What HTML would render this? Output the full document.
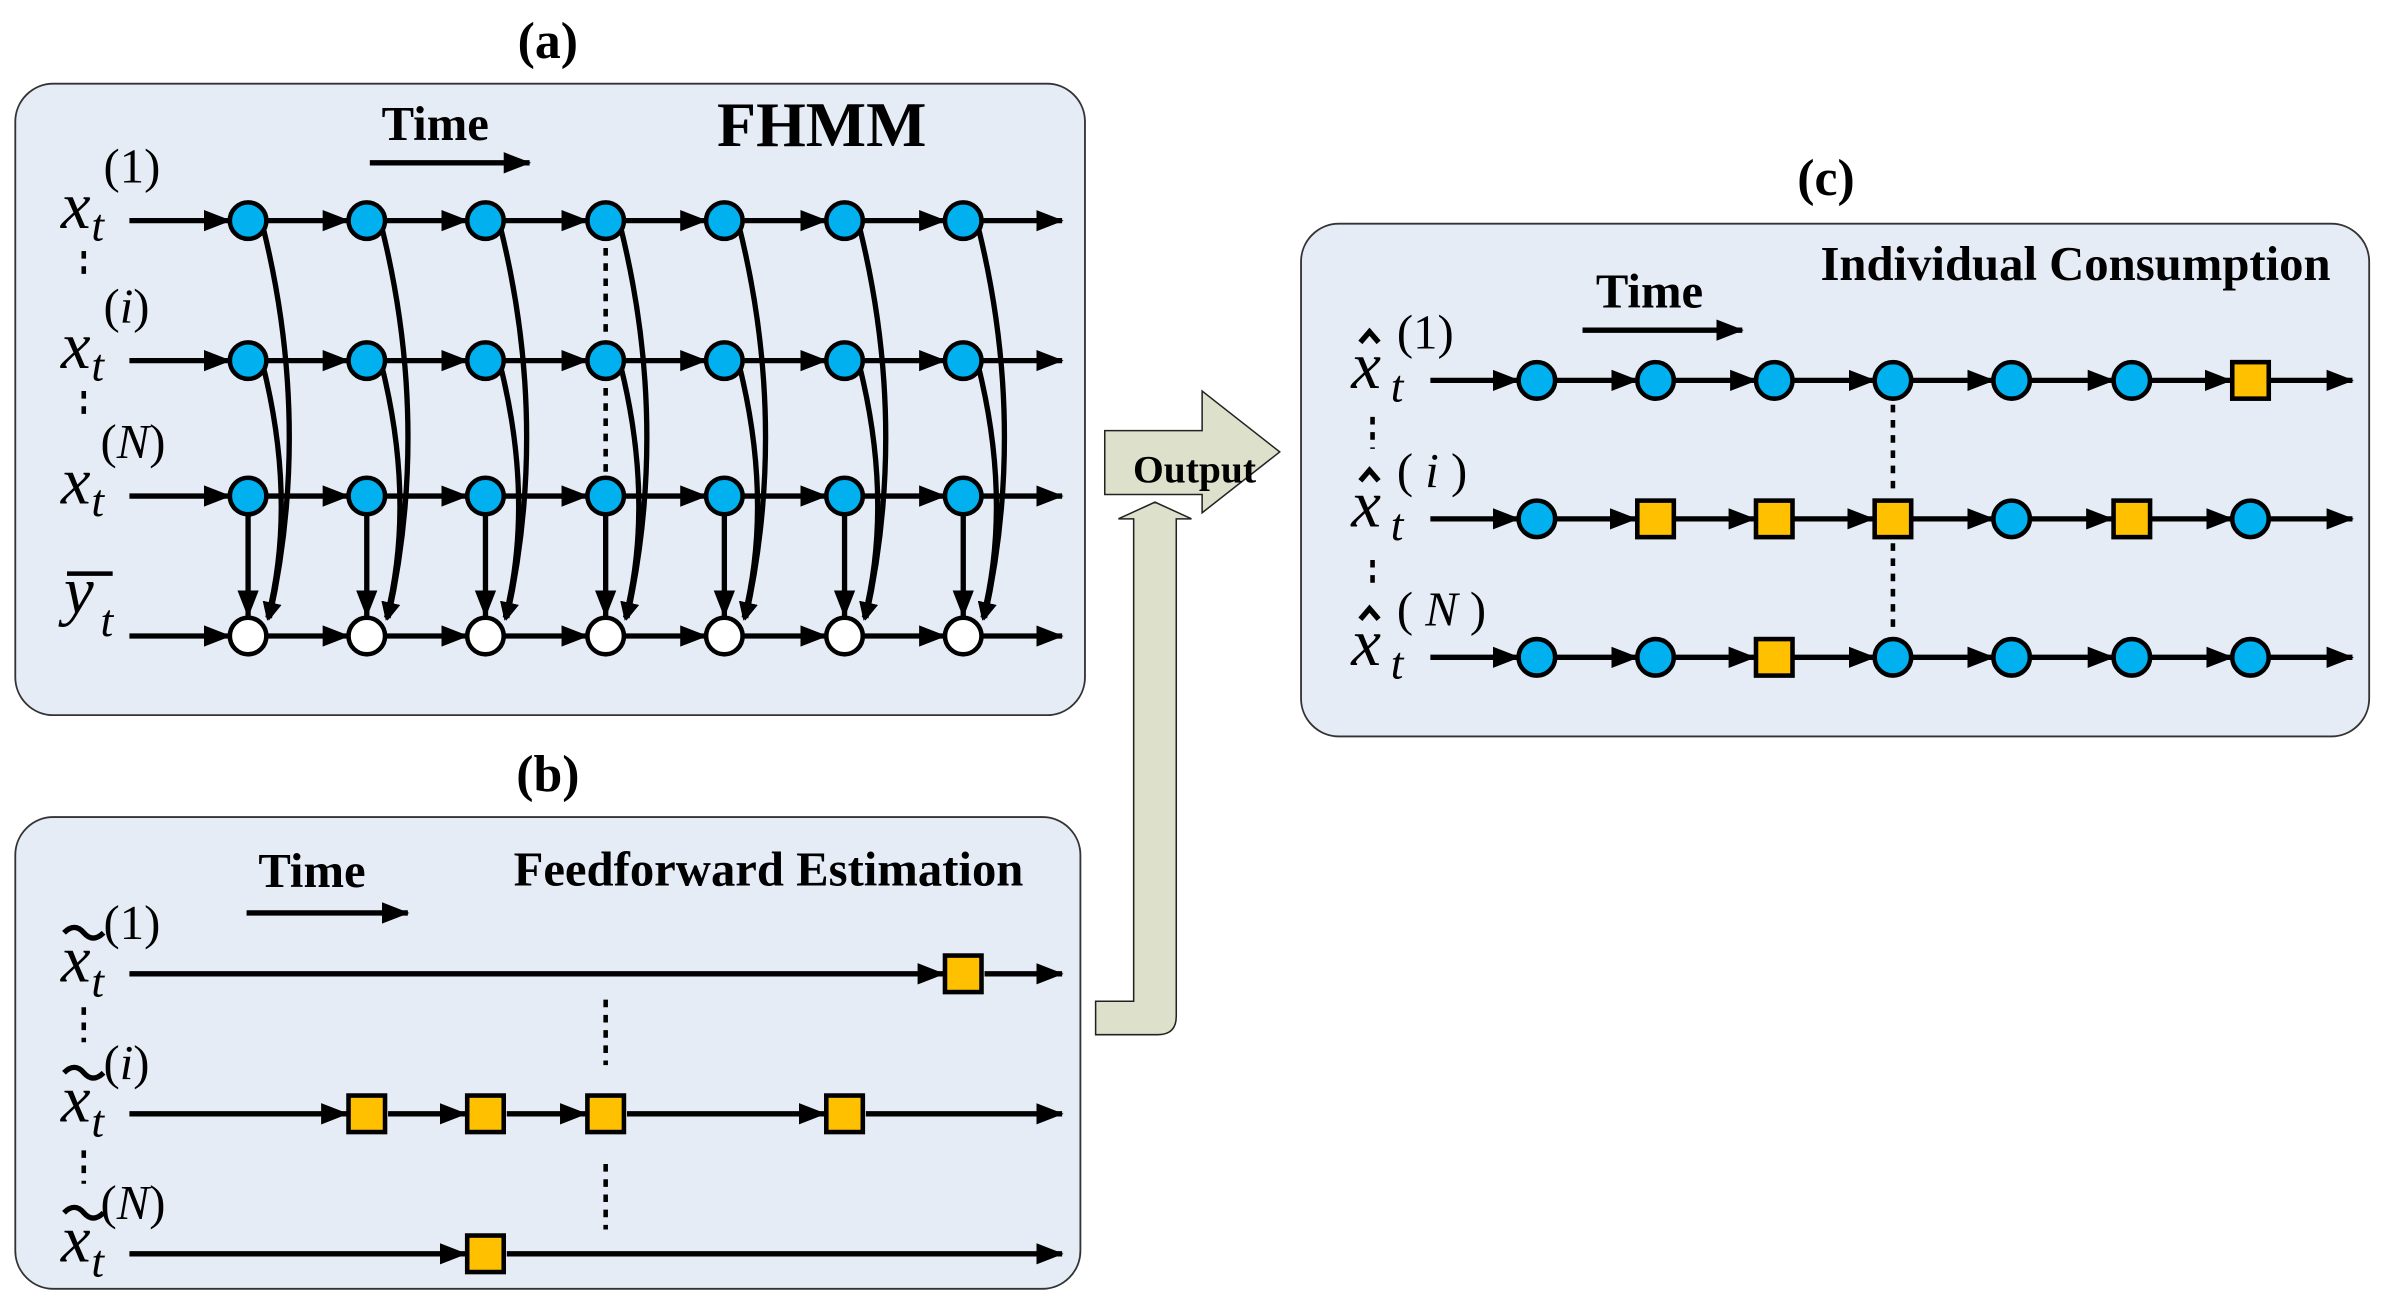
<!DOCTYPE html>
<html><head><meta charset="utf-8"><style>html,body{margin:0;padding:0;background:#fff}svg{display:block}</style></head>
<body>
<svg width="2386" height="1304" viewBox="0 0 1568 857" xmlns="http://www.w3.org/2000/svg" font-family="'Liberation Serif', serif">
<defs>
<marker id="ah" markerWidth="12" markerHeight="12" refX="10" refY="6" orient="auto" markerUnits="userSpaceOnUse" viewBox="0 0 12 12">
<path d="M0,0 L12,6 L0,12 z" fill="#000"/></marker>
<marker id="ah2" markerWidth="18" markerHeight="18" refX="17" refY="9" orient="auto" markerUnits="userSpaceOnUse" viewBox="0 0 18 18">
<path d="M0,2 L18,9 L0,16 z" fill="#000"/></marker>
</defs>
<style>
.bx{fill:#e6ecf6;stroke:#333;stroke-width:1.2}
.ln{stroke:#000;stroke-width:3.5;fill:none}
.c{fill:#00b0ef;stroke:#000;stroke-width:3}
.w{fill:#fff;stroke:#000;stroke-width:3}
.s{fill:#ffc000;stroke:#000;stroke-width:3}
.dt{stroke:#000;stroke-width:3;stroke-dasharray:5,5}
.b{font-weight:bold}
.it{font-style:italic}
</style>
<!-- Panel a -->
<text x="360" y="38" font-size="34" class="b" text-anchor="middle">(a)</text>
<rect class="bx" x="10" y="55" width="703" height="415" rx="25"/>
<text x="286" y="92" font-size="32" class="b" text-anchor="middle">Time</text>
<line class="ln" x1="243" y1="107" x2="348" y2="107" marker-end="url(#ah2)"/>
<text x="540" y="96" font-size="42" class="b" text-anchor="middle">FHMM</text>
<g class="ln" marker-end="url(#ah2)">
<path d="M85,145 H151"/><path d="M175,145 H229"/><path d="M253,145 H307"/><path d="M331,145 H386"/><path d="M410,145 H464"/><path d="M488,145 H543"/><path d="M567,145 H621"/><path d="M645,145 H698"/>
<path d="M85,237 H151"/><path d="M175,237 H229"/><path d="M253,237 H307"/><path d="M331,237 H386"/><path d="M410,237 H464"/><path d="M488,237 H543"/><path d="M567,237 H621"/><path d="M645,237 H698"/>
<path d="M85,326 H151"/><path d="M175,326 H229"/><path d="M253,326 H307"/><path d="M331,326 H386"/><path d="M410,326 H464"/><path d="M488,326 H543"/><path d="M567,326 H621"/><path d="M645,326 H698"/>
<path d="M85,418 H151"/><path d="M175,418 H229"/><path d="M253,418 H307"/><path d="M331,418 H386"/><path d="M410,418 H464"/><path d="M488,418 H543"/><path d="M567,418 H621"/><path d="M645,418 H698"/>
</g>
<line class="dt" x1="398" y1="163" x2="398" y2="222"/>
<line class="dt" x1="398" y1="255" x2="398" y2="312"/>
<line class="dt" x1="55" y1="165" x2="55" y2="185"/>
<line class="dt" x1="55" y1="257" x2="55" y2="277"/>
<g class="ln">
<path d="M163,338 V405" marker-end="url(#ah2)"/><path d="M241,338 V405" marker-end="url(#ah2)"/><path d="M319,338 V405" marker-end="url(#ah2)"/><path d="M398,338 V405" marker-end="url(#ah2)"/><path d="M476,338 V405" marker-end="url(#ah2)"/><path d="M555,338 V405" marker-end="url(#ah2)"/><path d="M633,338 V405" marker-end="url(#ah2)"/>
<path d="M173,150 Q205,280 177,406" marker-end="url(#ah)"/><path d="M173,241 Q195,330 176,406" marker-end="url(#ah)"/>
<path d="M251,150 Q283,280 255,406" marker-end="url(#ah)"/><path d="M251,241 Q273,330 254,406" marker-end="url(#ah)"/>
<path d="M329,150 Q361,280 333,406" marker-end="url(#ah)"/><path d="M329,241 Q351,330 332,406" marker-end="url(#ah)"/>
<path d="M408,150 Q440,280 412,406" marker-end="url(#ah)"/><path d="M408,241 Q430,330 411,406" marker-end="url(#ah)"/>
<path d="M486,150 Q518,280 490,406" marker-end="url(#ah)"/><path d="M486,241 Q508,330 489,406" marker-end="url(#ah)"/>
<path d="M565,150 Q597,280 569,406" marker-end="url(#ah)"/><path d="M565,241 Q587,330 568,406" marker-end="url(#ah)"/>
<path d="M643,150 Q675,280 647,406" marker-end="url(#ah)"/><path d="M643,241 Q665,330 646,406" marker-end="url(#ah)"/>
</g>
<g>
<circle class="c" cx="163" cy="145" r="12"/><circle class="c" cx="241" cy="145" r="12"/><circle class="c" cx="319" cy="145" r="12"/><circle class="c" cx="398" cy="145" r="12"/><circle class="c" cx="476" cy="145" r="12"/><circle class="c" cx="555" cy="145" r="12"/><circle class="c" cx="633" cy="145" r="12"/>
<circle class="c" cx="163" cy="237" r="12"/><circle class="c" cx="241" cy="237" r="12"/><circle class="c" cx="319" cy="237" r="12"/><circle class="c" cx="398" cy="237" r="12"/><circle class="c" cx="476" cy="237" r="12"/><circle class="c" cx="555" cy="237" r="12"/><circle class="c" cx="633" cy="237" r="12"/>
<circle class="c" cx="163" cy="326" r="12"/><circle class="c" cx="241" cy="326" r="12"/><circle class="c" cx="319" cy="326" r="12"/><circle class="c" cx="398" cy="326" r="12"/><circle class="c" cx="476" cy="326" r="12"/><circle class="c" cx="555" cy="326" r="12"/><circle class="c" cx="633" cy="326" r="12"/>
<circle class="w" cx="163" cy="418" r="12"/><circle class="w" cx="241" cy="418" r="12"/><circle class="w" cx="319" cy="418" r="12"/><circle class="w" cx="398" cy="418" r="12"/><circle class="w" cx="476" cy="418" r="12"/><circle class="w" cx="555" cy="418" r="12"/><circle class="w" cx="633" cy="418" r="12"/>
</g>
<g font-size="44" class="it">
<text x="40" y="150">x</text><text x="60" y="158" font-size="30">t</text><text x="68" y="120" font-size="32" font-style="normal">(1)</text>
<text x="40" y="242">x</text><text x="60" y="250" font-size="30">t</text><text x="68" y="212" font-size="32" font-style="normal">(<tspan font-style="italic">i</tspan>)</text>
<text x="40" y="331">x</text><text x="60" y="339" font-size="30">t</text><text x="66" y="301" font-size="32" font-style="normal">(<tspan font-style="italic">N</tspan>)</text>
<text x="42" y="403">y</text><text x="66" y="418" font-size="30">t</text>
</g>
<line x1="44" y1="377" x2="74" y2="377" stroke="#000" stroke-width="3"/>

<!-- Panel b -->
<text x="360" y="520" font-size="34" class="b" text-anchor="middle">(b)</text>
<rect class="bx" x="10" y="537" width="700" height="310" rx="25"/>
<text x="205" y="583" font-size="32" class="b" text-anchor="middle">Time</text>
<line class="ln" x1="162" y1="600" x2="268" y2="600" marker-end="url(#ah2)"/>
<text x="505" y="582" font-size="32" class="b" text-anchor="middle">Feedforward Estimation</text>
<g class="ln" marker-end="url(#ah2)">
<path d="M85,640 H620"/><path d="M85,732 H228"/><path d="M255,732 H306"/><path d="M333,732 H385"/><path d="M412,732 H542"/><path d="M85,824 H306"/>
<path d="M647,640 H698"/><path d="M569,732 H698"/><path d="M333,824 H698"/>
</g>
<line class="dt" x1="398" y1="657" x2="398" y2="700"/>
<line class="dt" x1="398" y1="765" x2="398" y2="808"/>
<line class="dt" x1="55" y1="662" x2="55" y2="685"/>
<line class="dt" x1="55" y1="756" x2="55" y2="778"/>
<rect class="s" x="621" y="628" width="24" height="24"/>
<rect class="s" x="229" y="720" width="24" height="24"/><rect class="s" x="307" y="720" width="24" height="24"/><rect class="s" x="386" y="720" width="24" height="24"/><rect class="s" x="543" y="720" width="24" height="24"/>
<rect class="s" x="307" y="812" width="24" height="24"/>
<g font-size="44" class="it">
<text x="40" y="645">x</text><text x="60" y="655" font-size="30">t</text><text x="68" y="617" font-size="32" font-style="normal">(1)</text>
<text x="40" y="737">x</text><text x="60" y="747" font-size="30">t</text><text x="68" y="709" font-size="32" font-style="normal">(<tspan font-style="italic">i</tspan>)</text>
<text x="40" y="829">x</text><text x="60" y="839" font-size="30">t</text><text x="66" y="801" font-size="32" font-style="normal">(<tspan font-style="italic">N</tspan>)</text>
</g>
<g class="ln" stroke-width="2.5"><path d="M42,613 q7,-7 13,0 t13,0"/><path d="M42,705 q7,-7 13,0 t13,0"/><path d="M42,797 q7,-7 13,0 t13,0"/></g>

<!-- Output arrow -->
<path d="M720,658 H745 V341 H735 L759,330 L783,341 H773 V668 Q773,680 761,680 H720 Z" fill="#dde1cb" stroke="#222" stroke-width="1"/>
<path d="M726,283 H790 V257 L841,297 L790,337 V325 H726 Z" fill="#dde1cb" stroke="#222" stroke-width="1"/>
<text x="785" y="317" font-size="26" class="b" text-anchor="middle">Output</text>

<!-- Panel c -->
<text x="1200" y="128" font-size="34" class="b" text-anchor="middle">(c)</text>
<rect class="bx" x="855" y="147" width="702" height="337" rx="25"/>
<text x="1084" y="202" font-size="32" class="b" text-anchor="middle">Time</text>
<line class="ln" x1="1040" y1="217" x2="1145" y2="217" marker-end="url(#ah2)"/>
<text x="1364" y="184" font-size="32" class="b" text-anchor="middle">Individual Consumption</text>
<g class="ln" marker-end="url(#ah2)">
<path d="M940,250 H998"/><path d="M1022,250 H1076"/><path d="M1100,250 H1154"/><path d="M1178,250 H1232"/><path d="M1256,250 H1310"/><path d="M1334,250 H1389"/><path d="M1413,250 H1466"/><path d="M1491,250 H1546"/>
<path d="M940,341 H998"/><path d="M1022,341 H1075"/><path d="M1100,341 H1153"/><path d="M1178,341 H1231"/><path d="M1256,341 H1310"/><path d="M1334,341 H1388"/><path d="M1413,341 H1467"/><path d="M1491,341 H1546"/>
<path d="M940,432 H998"/><path d="M1022,432 H1076"/><path d="M1100,432 H1153"/><path d="M1178,432 H1232"/><path d="M1256,432 H1310"/><path d="M1334,432 H1389"/><path d="M1413,432 H1467"/><path d="M1491,432 H1546"/>
</g>
<line class="dt" x1="1244" y1="266" x2="1244" y2="325"/>
<line class="dt" x1="1244" y1="357" x2="1244" y2="416"/>
<line class="dt" x1="902" y1="274" x2="902" y2="295"/>
<line class="dt" x1="902" y1="368" x2="902" y2="388"/>
<g>
<circle class="c" cx="1010" cy="250" r="12"/><circle class="c" cx="1088" cy="250" r="12"/><circle class="c" cx="1166" cy="250" r="12"/><circle class="c" cx="1244" cy="250" r="12"/><circle class="c" cx="1322" cy="250" r="12"/><circle class="c" cx="1401" cy="250" r="12"/><rect class="s" x="1467" y="238" width="24" height="24"/>
<circle class="c" cx="1010" cy="341" r="12"/><rect class="s" x="1076" y="329" width="24" height="24"/><rect class="s" x="1154" y="329" width="24" height="24"/><rect class="s" x="1232" y="329" width="24" height="24"/><circle class="c" cx="1322" cy="341" r="12"/><rect class="s" x="1389" y="329" width="24" height="24"/><circle class="c" cx="1479" cy="341" r="12"/>
<circle class="c" cx="1010" cy="432" r="12"/><circle class="c" cx="1088" cy="432" r="12"/><rect class="s" x="1154" y="420" width="24" height="24"/><circle class="c" cx="1244" cy="432" r="12"/><circle class="c" cx="1322" cy="432" r="12"/><circle class="c" cx="1401" cy="432" r="12"/><circle class="c" cx="1479" cy="432" r="12"/>
</g>
<g font-size="44" class="it">
<text x="888" y="255">x</text><text x="914" y="264" font-size="30">t</text><text x="918" y="229" font-size="32" font-style="normal">(1)</text>
<text x="888" y="346">x</text><text x="914" y="355" font-size="30">t</text><text x="918" y="320" font-size="32" font-style="normal">( <tspan font-style="italic">i</tspan> )</text>
<text x="888" y="437">x</text><text x="914" y="446" font-size="30">t</text><text x="918" y="411" font-size="32" font-style="normal">( <tspan font-style="italic">N</tspan> )</text>
</g>
<g class="ln" stroke-width="2.5"><path d="M894,225 l6,-7 l6,7"/><path d="M894,316 l6,-7 l6,7"/><path d="M894,407 l6,-7 l6,7"/></g>
</svg>
</body></html>
